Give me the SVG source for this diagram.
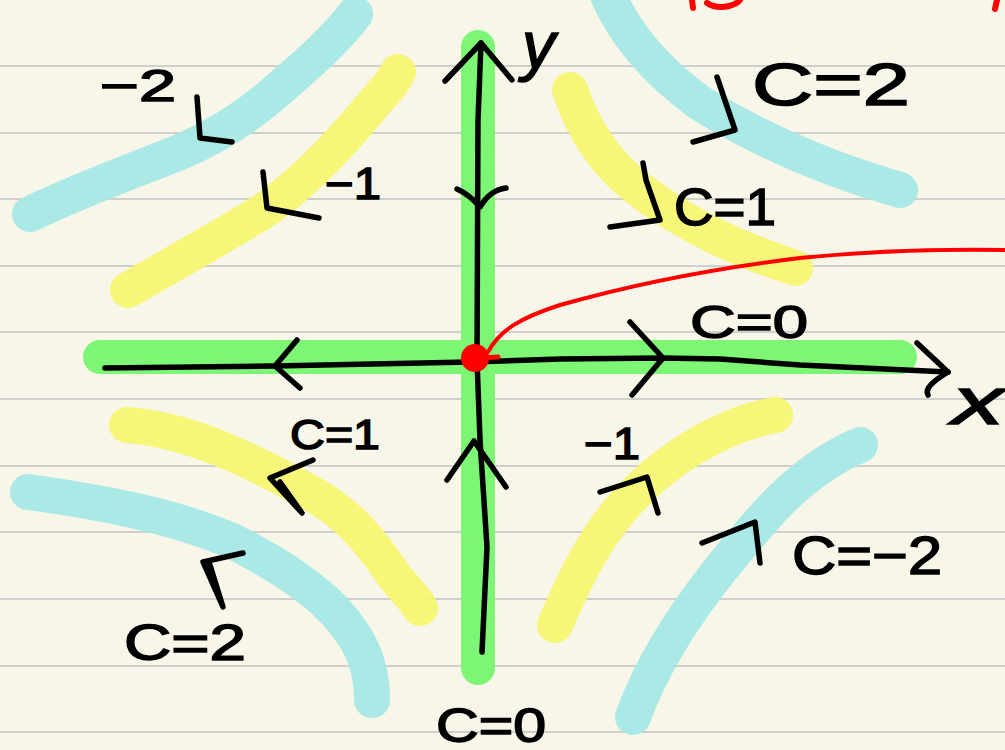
<svg xmlns="http://www.w3.org/2000/svg" width="1005" height="750" viewBox="0 0 1005 750">
<style>
.rule{stroke:#cfcfcc;stroke-width:2}
.hl{fill:none;stroke-linecap:round;stroke-linejoin:round;stroke-width:36}
.cy{stroke:#a6e8e6;opacity:0.95}
.ye{stroke:#f6f572;opacity:0.95}
.gr{stroke:#7df575;stroke-width:34}
.ink{fill:none;stroke:#000;stroke-width:5.5;stroke-linecap:round;stroke-linejoin:round}
.red{fill:none;stroke:#ff0000;stroke-linecap:round;stroke-linejoin:round}
.lbl{font-family:"Liberation Sans","DejaVu Sans",sans-serif;fill:#000;stroke:#000;stroke-width:1.5}
</style>
<rect width="1005" height="750" fill="#f8f6e9"/>
<g id="rules">
<line class="rule" x1="0" y1="66" x2="1005" y2="66"/>
<line class="rule" x1="0" y1="133" x2="1005" y2="133"/>
<line class="rule" x1="0" y1="199" x2="1005" y2="199"/>
<line class="rule" x1="0" y1="266" x2="1005" y2="266"/>
<line class="rule" x1="0" y1="332" x2="1005" y2="332"/>
<line class="rule" x1="0" y1="399" x2="1005" y2="399"/>
<line class="rule" x1="0" y1="466" x2="1005" y2="466"/>
<line class="rule" x1="0" y1="532" x2="1005" y2="532"/>
<line class="rule" x1="0" y1="599" x2="1005" y2="599"/>
<line class="rule" x1="0" y1="666" x2="1005" y2="666"/>
<line class="rule" x1="0" y1="732" x2="1005" y2="732"/>
</g>
<g id="highlights">
<path class="hl cy" d="M30,214 C80,190 130,172 180,152 C220,135 250,115 280,88 C310,62 335,40 355,14"/>
<path class="hl ye" d="M128,290 C180,260 230,232 265,210 C300,185 330,155 360,120 C380,95 392,85 398,72"/>
<path class="hl cy" d="M608,-5 C625,35 655,70 700,103 C760,140 830,170 900,190"/>
<path class="hl ye" d="M570,90 C580,120 600,160 640,190 C690,228 740,250 795,268"/>
<path class="hl ye" d="M127,425 C190,430 250,460 305,490 C345,510 370,540 390,570 C400,585 415,598 420,608"/>
<path class="hl cy" d="M28,492 C100,502 170,515 230,540 C290,570 330,600 350,630 C365,650 372,672 372,700"/>
<path class="hl ye" d="M555,625 C570,590 590,545 620,510 C660,462 720,425 775,415"/>
<path class="hl cy" d="M633,717 C650,670 680,620 720,570 C760,520 800,470 860,445"/>
<line class="hl gr" x1="100" y1="357" x2="900" y2="357"/>
<line class="hl gr" x1="478" y1="47" x2="478" y2="668"/>
</g>
<g id="connectors">
<path class="ink" d="M105,368 L275,366 L470,362 L560,359 L662,358 L720,359 L800,365 L948,372"/>
<path class="ink" d="M917,343 L948,372 C935,380 924,388 928,395"/>
<path class="ink" d="M297,340 L275,366 L300,388"/>
<path class="ink" d="M630,322 L663,358 L632,395"/>
<path class="ink" d="M481,43 L478,120 L477,360 L480,440 L487,547 L482,652"/>
<path class="ink" d="M445,81 L481,43 L512,80"/>
<path class="ink" d="M457,189 Q470,195 480,207 Q490,190 506,188"/>
<path class="ink" d="M447,480 L474,441 L506,487"/>
<path class="ink" d="M197,97 L200,138 L232,142"/>
<path class="ink" d="M263,172 L267,208 L319,218"/>
<path class="ink" d="M717,77 L735,130 L693,142"/>
<path class="ink" d="M643,163 L646,180 L660,220 L610,227"/>
<path class="ink" d="M313,460 L270,478 L302,513 L280,482"/>
<path class="ink" d="M243,553 L203,562 L223,607 L210,565"/>
<path class="ink" d="M600,492 L647,477 L658,513"/>
<path class="ink" d="M702,543 L755,522 L760,563"/>
</g>
<g id="red-curve">
<path class="red" stroke-width="4" d="M488,352 C500,330 520,318 560,305 C620,288 700,270 800,258 C880,250 950,249 1005,250"/>
<circle cx="475" cy="358" r="14" fill="#ff0000"/>
<path class="red" stroke-width="5" d="M480,358 L498,357"/>
<path class="red" stroke-width="6" d="M692,0 L693,8 M707,3 Q716,9 729,6 Q737,4 740,0 M997,0 L995,9"/>
</g>
<g id="labels">
<text class="lbl" x="100" y="101" font-size="44" textLength="76" lengthAdjust="spacingAndGlyphs">−2</text>
<text class="lbl" x="325" y="199" font-size="44" textLength="56" lengthAdjust="spacingAndGlyphs">−1</text>
<text class="lbl" x="752" y="105" font-size="60" textLength="158" lengthAdjust="spacingAndGlyphs">C=2</text>
<text class="lbl" x="674" y="225" font-size="52" textLength="102" lengthAdjust="spacingAndGlyphs">C=1</text>
<text class="lbl" x="690" y="338" font-size="46" textLength="118" lengthAdjust="spacingAndGlyphs">C=0</text>
<text class="lbl" x="952" y="424" font-size="66" font-style="italic" stroke-width="2" textLength="52" lengthAdjust="spacingAndGlyphs">x</text>
<text class="lbl" x="522" y="68" font-size="66" font-style="italic" stroke-width="1">y</text>
<text class="lbl" x="290" y="449" font-size="42" textLength="90" lengthAdjust="spacingAndGlyphs">C=1</text>
<text class="lbl" x="584" y="459" font-size="44" textLength="56" lengthAdjust="spacingAndGlyphs">−1</text>
<text class="lbl" x="124" y="660" font-size="50" textLength="122" lengthAdjust="spacingAndGlyphs">C=2</text>
<text class="lbl" x="792" y="574" font-size="54" textLength="150" lengthAdjust="spacingAndGlyphs">C=−2</text>
<text class="lbl" x="436" y="742" font-size="48" textLength="110" lengthAdjust="spacingAndGlyphs">C=0</text>
</g>
</svg>
